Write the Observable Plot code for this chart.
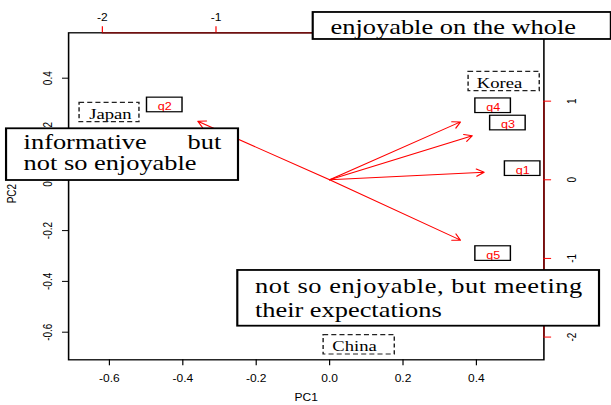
<!DOCTYPE html>
<html><head><meta charset="utf-8">
<script src="https://cdn.jsdelivr.net/npm/d3@7"></script>
<script src="https://cdn.jsdelivr.net/npm/@observablehq/plot@0.6"></script>
<style>html,body{margin:0;padding:0;background:#fff;overflow:hidden}</style>
</head><body><div id="chart"></div>
<script>
// ---- data ----
const variables = ["q1", "q2", "q3", "q4", "q5"];
const loadingPC1 = [1.70, -1.45, 1.57, 1.44, 1.44];
const loadingPC2 = [0.12, 0.93, 0.70, 0.92, -0.96];
const countries = ["Japan", "Korea", "China"];
const scorePC1 = [-0.597, 0.463, 0.068];
const scorePC2 = [0.2598, 0.3819, -0.6551];
const scoreTicks = [-0.6, -0.4, -0.2, 0, 0.2, 0.4];
const scoreTickLabels = ["-0.6", "-0.4", "-0.2", "0.0", "0.2", "0.4"];
const loadingTicks = [-2, -1, 0, 1];
const loadingTickLabels = ["-2", "-1", "0", "1"];
const noteText = [
  {text: "enjoyable on the whole", x: 0.0027, y: 0.6025, anchor: "start"},
  {text: "informative", x: -0.8338, y: 0.1484, anchor: "start"},
  {text: "but", x: -0.2951, y: 0.1484, anchor: "end"},
  {text: "not so enjoyable", x: -0.8338, y: 0.0650, anchor: "start"},
  {text: "not so enjoyable, but meeting", x: -0.2035, x2: 0.6886, y: -0.4161, anchor: "justify"},
  {text: "their expectations", x: -0.2035, y: -0.5118, anchor: "start"}
];
const noteBoxes = [
  {x1: -0.0444, x2: 0.768, y1: 0.6587, y2: 0.5524},
  {x1: -0.880, x2: -0.248, y1: 0.2008, y2: -0.0028},
  {x1: -0.2499, x2: 0.7357, y1: -0.357, y2: -0.5764}
];

// ---- layout ----
const S = 1.2;                 // the reference raster is stretched horizontally
const W = 611, H = 405;
const xDomain = [-0.7112, 0.5839];
const yDomain = [-0.7087, 0.5787];
const ratio = 3.23;            // loading axes vs score axes (biplot)
const share = 0.8;             // arrows drawn to 0.8 of the loading
const [xMin, xMax] = xDomain, [yMin, yMax] = yDomain;
const lx = (d, i) => loadingPC1[i] / ratio;
const ly = (d, i) => loadingPC2[i] / ratio;
const sx = (d, i) => scorePC1[i];
const sy = (d, i) => scorePC2[i];
const cx = c => scorePC1[countries.indexOf(c)];
const cy = c => scorePC2[countries.indexOf(c)];
const serif = "Liberation Serif, Times New Roman, serif";
const sans = "Liberation Sans, Arial, Helvetica, sans-serif";
const darkRed = "#8b0a0a";
// top-axis labels that the "enjoyable on the whole" box hides are not drawn
const topLabelIdx = loadingTicks.map((t, i) => i).filter(i => loadingTicks[i] / ratio < noteBoxes[0].x1);

const plot = Plot.plot({
  width: W / S, height: H,
  marginLeft: 68 / S, marginRight: (W - 543.3) / S, marginTop: 32.3, marginBottom: H - 359.3,
  x: {domain: xDomain, axis: null},
  y: {domain: yDomain, axis: null},
  style: {fontFamily: sans, fontSize: "10px", background: "white", overflow: "visible"},
  marks: [
    Plot.frame({stroke: "black", strokeWidth: 1.3}),
    // secondary (loading) axis lines
    Plot.ruleY([yMax], {x1: -2 / ratio, x2: 1 / ratio, stroke: darkRed, strokeWidth: 1.3}),
    Plot.ruleX([xMax], {y1: -2 / ratio, y2: 1 / ratio, stroke: darkRed, strokeWidth: 1.3}),
    // primary ticks
    Plot.ruleX(scoreTicks, {x: d => d, y1: yMin, y2: yMin, insetTop: 6, stroke: "black", strokeWidth: 1}),
    Plot.ruleY(scoreTicks, {y: d => d, x1: xMin, x2: xMin, insetLeft: -5, stroke: "black", strokeWidth: 1}),
    Plot.text(scoreTicks, {x: d => d, y: yMin, dy: 19, text: (d, i) => scoreTickLabels[i], fill: "black"}),
    Plot.text(scoreTicks, {x: xMin, y: d => d, dx: -17, rotate: -90, text: (d, i) => scoreTickLabels[i], fill: "black"}),
    // secondary ticks
    Plot.ruleX(loadingTicks, {x: d => d / ratio, y1: yMax, y2: yMax, insetTop: -6, stroke: "red", strokeWidth: 1}),
    Plot.ruleY(loadingTicks, {y: d => d / ratio, x1: xMax, x2: xMax, insetRight: -6.5, stroke: "red", strokeWidth: 1}),
    Plot.text(topLabelIdx, {x: i => loadingTicks[i] / ratio, y: yMax, dy: -15, text: i => loadingTickLabels[i], fill: "black"}),
    Plot.text(loadingTicks, {x: xMax, y: d => d / ratio, dx: 23.7, rotate: -90, text: (d, i) => loadingTickLabels[i], fill: "black"}),
    // axis titles
    Plot.text(["PC1"], {frameAnchor: "bottom", dy: 40.7, text: d => d, fill: "black"}),
    Plot.text(["PC2"], {frameAnchor: "left", dx: -46.7, dy: 7, rotate: -90, text: d => d, fill: "black"}),
    // variable arrows and labels
    Plot.arrow(variables, {x1: () => 0, y1: () => 0,
      x2: (d, i) => share * lx(d, i), y2: (d, i) => share * ly(d, i),
      stroke: "red", strokeWidth: 1, headLength: 11, headAngle: 60}),
    Plot.text(variables, {x: lx, y: ly, text: d => d, fill: "red", fontSize: 10.5}),
    Plot.rect(variables, {x1: lx, x2: lx, y1: ly, y2: ly,
      insetLeft: -14.8, insetRight: -14.8, insetTop: -9, insetBottom: -5.6,
      fill: "none", stroke: "black", strokeWidth: 1.2}),
    // country labels
    Plot.text(countries, {x: sx, y: sy, text: d => d, fill: "black", fontFamily: serif, fontSize: 15.5}),
    Plot.rect(countries.filter(c => c !== "Japan"), {x1: cx, x2: cx, y1: cy, y2: cy,
      insetLeft: -25.7, insetRight: -33.6, insetTop: -11, insetBottom: -8.3,
      fill: "none", stroke: "#222", strokeWidth: 1.2, strokeDasharray: "4.2,2.6"}),
    Plot.rect(countries.filter(c => c === "Japan"), {x1: cx, x2: cx, y1: cy, y2: cy,
      insetLeft: -25.7, insetRight: -24.2, insetTop: -11, insetBottom: -8.3,
      fill: "none", stroke: "#222", strokeWidth: 1.2, strokeDasharray: "4.2,2.6"}),
    // annotation boxes
    Plot.rect(noteBoxes, {x1: "x1", x2: "x2", y1: "y1", y2: "y2", fill: "white", stroke: "black", strokeWidth: 1.8}),
    Plot.text(noteText.filter(d => d.anchor !== "end"), {x: "x", y: "y", text: "text", textAnchor: "start", fill: "black", fontFamily: serif, fontSize: 22}),
    Plot.text(noteText.filter(d => d.anchor === "end"), {x: "x", y: "y", text: "text", textAnchor: "end", fill: "black", fontFamily: serif, fontSize: 22})
  ]
});

document.getElementById("chart").appendChild(plot);

// justify the line that is spread to the box width in the reference
try {
  const sc = plot.scale("x");
  const px = d3.scaleLinear(sc.domain, sc.range);
  const just = noteText.filter(d => d.anchor === "justify");
  d3.select(plot).selectAll("text").each(function () {
    const d = just.find(j => j.text === this.textContent);
    if (!d) return;
    this.setAttribute("textLength", String(px(d.x2) - px(d.x)));
    this.setAttribute("lengthAdjust", "spacing");
  });
} catch (e) { console.error(e); }

// stretch horizontally like the reference raster
plot.setAttribute("width", W);
plot.setAttribute("height", H);
plot.setAttribute("preserveAspectRatio", "none");
plot.style.width = W + "px";
plot.style.height = H + "px";
plot.style.maxWidth = "none";
</script>
</body></html>
